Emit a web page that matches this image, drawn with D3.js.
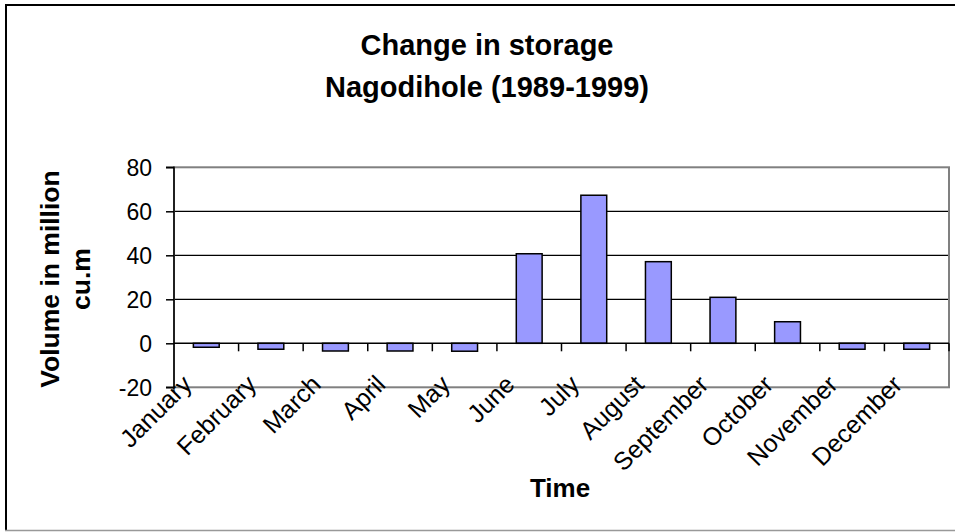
<!DOCTYPE html>
<html><head><meta charset="utf-8">
<script src="https://cdn.jsdelivr.net/npm/d3@7"></script>
<style>body{margin:0;background:#fff;} svg{display:block;}</style>
</head><body>
<script>
const months = ["January","February","March","April","May","June","July","August","September","October","November","December"];
const values = [-1.8,-2.7,-3.5,-3.5,-3.6,40.7,67.3,37.1,20.9,9.8,-2.7,-2.7];
const yTicks = [-20,0,20,40,60,80];
const titleLines = ["Change in storage","Nagodihole (1989-1999)"];
const yTitleLines = ["Volume in million","cu.m"];
const xTitle = "Time";

const W = 955, H = 532;
const plot = {left:174, right:949, top:167.3, bottom:387.3};
const font = "'Liberation Sans', Arial, sans-serif";

const svg = d3.select("body").append("svg").attr("width",W).attr("height",H);
svg.append("rect").attr("width",W).attr("height",H).attr("fill","#fff");

// outer border
svg.append("line").attr("x1",6).attr("x2",W).attr("y1",5).attr("y2",5).attr("stroke","#000").attr("stroke-width",2);
svg.append("line").attr("x1",6).attr("x2",6).attr("y1",4).attr("y2",531).attr("stroke","#000").attr("stroke-width",2);
svg.append("line").attr("x1",5).attr("x2",W).attr("y1",530.5).attr("y2",530.5).attr("stroke","#999").attr("stroke-width",1.5);

const x = d3.scaleBand().domain(months).range([plot.left, plot.right]).paddingInner(0.6).paddingOuter(0.3);
const xb = d3.scaleBand().domain(months).range([plot.left, plot.right]);
const y = d3.scaleLinear().domain([-20,80]).range([plot.bottom, plot.top]);

// gridlines
svg.append("g").selectAll("line").data(yTicks.filter(t=>t>0 && t<80)).join("line")
  .attr("x1",plot.left).attr("x2",plot.right).attr("y1",d=>y(d)).attr("y2",d=>y(d))
  .attr("stroke","#000").attr("stroke-width",1.2);

// plot border (gray)
svg.append("rect").attr("x",plot.left).attr("y",plot.top).attr("width",plot.right-plot.left).attr("height",plot.bottom-plot.top)
  .attr("fill","none").attr("stroke","#808080").attr("stroke-width",2);

// bars
svg.append("g").selectAll("rect").data(values).join("rect")
  .attr("x",(d,i)=>x(months[i])).attr("width",x.bandwidth())
  .attr("y",d=>y(Math.max(0,d))).attr("height",d=>Math.abs(y(d)-y(0)))
  .attr("fill","#9999FF").attr("stroke","#000").attr("stroke-width",1.5);

// zero axis line with category ticks
svg.append("line").attr("x1",plot.left).attr("x2",plot.right).attr("y1",y(0)).attr("y2",y(0)).attr("stroke","#000").attr("stroke-width",1.5);
svg.append("g").selectAll("line").data(months.map((m,i)=>i+1)).join("line")
  .attr("x1",i=> i<12 ? xb(months[i]) : plot.right).attr("x2",i=> i<12 ? xb(months[i]) : plot.right)
  .attr("y1",y(0)).attr("y2",y(0)+8).attr("stroke","#000").attr("stroke-width",1.5);

// y axis
const yAxis = d3.axisLeft(y).tickValues(yTicks).tickSize(8).tickPadding(14).tickFormat(d=>String(d));
const gy = svg.append("g").attr("transform",`translate(${plot.left},0)`).call(yAxis);
gy.attr("font-family",null).attr("font-size",null);
gy.select(".domain").attr("stroke","#000").attr("stroke-width",1.5).attr("d",`M-8,${plot.top}H0V${plot.bottom}H-8`);
gy.selectAll(".tick line").attr("stroke","#000").attr("stroke-width",1.5);
gy.selectAll(".tick text").attr("font-family",font).attr("font-size",23).attr("fill","#000").attr("dy","0.35em");

// x labels
svg.append("g").selectAll("text").data(months).join("text")
  .attr("transform",d=>`translate(${xb(d)+xb.bandwidth()/2-13},${386}) rotate(-45)`)
  .attr("text-anchor","end")
  .attr("font-family",font).attr("font-size",25).attr("fill","#000").text(d=>d);

// titles
svg.append("g").selectAll("text").data(titleLines).join("text")
  .attr("x",487).attr("y",(d,i)=>55+i*42).attr("text-anchor","middle")
  .attr("font-family",font).attr("font-weight","bold").attr("font-size",29).text(d=>d);

svg.append("g").selectAll("text").data(yTitleLines).join("text")
  .attr("transform",(d,i)=>`translate(${59+i*31},279) rotate(-90)`).attr("text-anchor","middle")
  .attr("font-family",font).attr("font-weight","bold").attr("font-size",26.5).text(d=>d);

svg.append("text").attr("x",560).attr("y",497).attr("text-anchor","middle")
  .attr("font-family",font).attr("font-weight","bold").attr("font-size",26).text(xTitle);
</script>
</body></html>
